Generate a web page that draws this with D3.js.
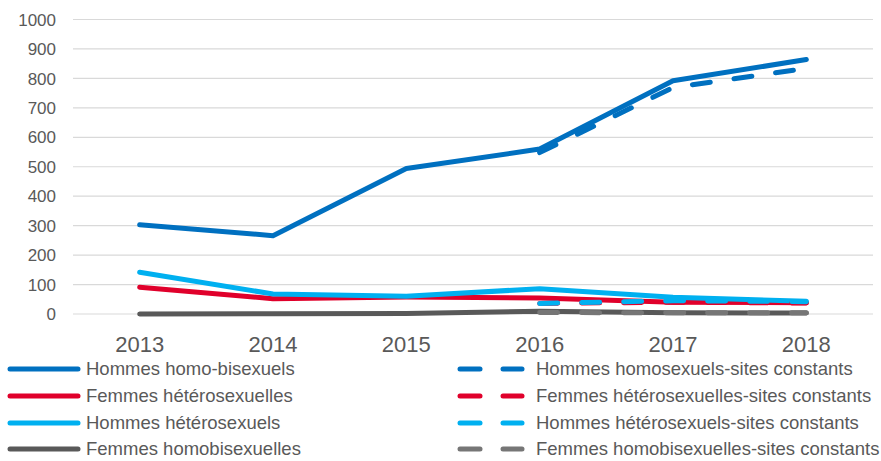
<!DOCTYPE html>
<meta charset="utf-8">
<html>
<script src="https://d3js.org/d3.v7.min.js"></script>
<style>
    body { margin: 0; background: #fff; }
    text { font-family: "Liberation Sans", Arial, sans-serif; fill: #595959; }
</style>
<body>
<div id="chart"></div>
<script>
// data
var years = ["2013", "2014", "2015", "2016", "2017", "2018"];
var yTicks = [0, 100, 200, 300, 400, 500, 600, 700, 800, 900, 1000];

var hommesHomoBi = [303, 266, 494, 560, 792, 864];
var femmesHetero = [91, 52, 58, 54, 40, 38];
var hommesHetero = [142, 68, 60, 86, 57, 43];
var femmesHomoBi = [0, 1, 2, 9, 4, 3];

// "sites constants" series start in 2016
var yearsConst = ["2016", "2017", "2018"];
var hommesHomoConst = [548, 769, 834];
var femmesHeteroConst = [36, 40, 37];
var hommesHeteroConst = [36, 45, 42];
var femmesHomoBiConst = [5, 4, 4];

var series = [
    { name: "Hommes homo-bisexuels", x: years, values: hommesHomoBi, color: "#0070C0", dashed: false },
    { name: "Femmes hétérosexuelles", x: years, values: femmesHetero, color: "#E0002B", dashed: false },
    { name: "Hommes hétérosexuels", x: years, values: hommesHetero, color: "#00B0F0", dashed: false },
    { name: "Femmes homobisexuelles", x: years, values: femmesHomoBi, color: "#595959", dashed: false },
    { name: "Hommes homosexuels-sites constants", x: yearsConst, values: hommesHomoConst, color: "#0070C0", dashed: true },
    { name: "Femmes hétérosexuelles-sites constants", x: yearsConst, values: femmesHeteroConst, color: "#E0002B", dashed: true },
    { name: "Hommes hétérosexuels-sites constants", x: yearsConst, values: hommesHeteroConst, color: "#00B0F0", dashed: true },
    { name: "Femmes homobisexuelles-sites constants", x: yearsConst, values: femmesHomoBiConst, color: "#767676", dashed: true }
];

var width = 881, height = 461;
var svg = d3.select("#chart").append("svg")
    .attr("width", width)
    .attr("height", height);

var x = d3.scaleBand().domain(years).range([73, 873]);
var y = d3.scaleLinear().domain([0, 1000]).range([314, 19.5]);

// gridlines
svg.append("g").selectAll("line")
    .data(yTicks).enter().append("line")
    .attr("x1", 73).attr("x2", 873)
    .attr("y1", function (d) { return y(d); })
    .attr("y2", function (d) { return y(d); })
    .attr("stroke", "#d9d9d9")
    .attr("stroke-width", 1.2);

// y axis labels
svg.append("g").selectAll("text")
    .data(yTicks).enter().append("text")
    .attr("x", 56)
    .attr("y", function (d) { return y(d); })
    .attr("dy", "0.36em")
    .attr("text-anchor", "end")
    .style("font-size", "17px")
    .text(function (d) { return d; });

// x axis labels
svg.append("g").selectAll("text")
    .data(years).enter().append("text")
    .attr("x", function (d) { return x(d) + x.bandwidth() / 2; })
    .attr("y", 352)
    .attr("text-anchor", "middle")
    .style("font-size", "22px")
    .text(function (d) { return d; });

var line = d3.line()
    .x(function (d) { return x(d[0]) + x.bandwidth() / 2; })
    .y(function (d) { return y(d[1]); });

// draw solid first then dashed, in reverse so dark blue sits on top
var order = [3, 1, 2, 0, 7, 5, 6, 4];
order.forEach(function (i) {
    var s = series[i];
    svg.append("path")
        .datum(d3.zip(s.x, s.values))
        .attr("fill", "none")
        .attr("stroke", s.color)
        .attr("stroke-width", 5)
        .attr("stroke-linecap", "round")
        .attr("stroke-linejoin", "round")
        .attr("stroke-dasharray", s.dashed ? "18,24" : null)
        .attr("d", line);
});

// legend
var legend = svg.append("g");
var rowY = [369, 396, 423, 449];
series.forEach(function (s, i) {
    var ry = rowY[i % 4];
    var g = legend.append("g");
    if (!s.dashed) {
        g.append("line")
            .attr("x1", 10).attr("x2", 78)
            .attr("y1", ry).attr("y2", ry)
            .attr("stroke", s.color).attr("stroke-width", 5)
            .attr("stroke-linecap", "round");
        g.append("text")
            .attr("x", 86).attr("y", ry).attr("dy", "0.34em")
            .style("font-size", "18.5px")
            .text(s.name);
    } else {
        [[460, 480], [503, 522]].forEach(function (seg) {
            g.append("line")
                .attr("x1", seg[0]).attr("x2", seg[1])
                .attr("y1", ry).attr("y2", ry)
                .attr("stroke", s.color).attr("stroke-width", 5)
                .attr("stroke-linecap", "round");
        });
        g.append("text")
            .attr("x", 536).attr("y", ry).attr("dy", "0.34em")
            .style("font-size", "18.5px")
            .text(s.name);
    }
});
</script>
</body>
</html>
